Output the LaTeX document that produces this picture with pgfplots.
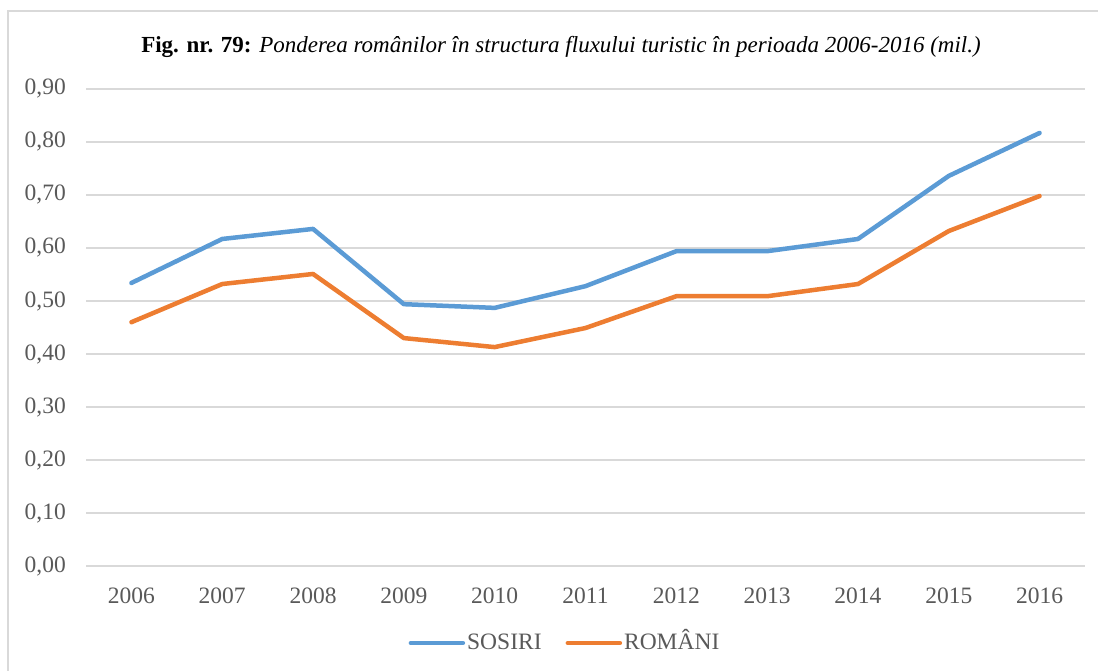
\documentclass[border=0pt]{standalone}
\usepackage{fontspec}
\setmainfont{Liberation Serif}
\usepackage{pgfplots}
\pgfplotsset{compat=1.18}
\definecolor{sosiri}{HTML}{5B9BD5}
\definecolor{romani}{HTML}{ED7D31}
\definecolor{gridc}{HTML}{D9D9D9}
\definecolor{txt}{HTML}{595959}
\begin{document}
\begin{tikzpicture}[x=1pt,y=1pt]
\useasboundingbox (0,0) rectangle (1098,671);
\draw[gridc, line width=2pt] (8,0) -- (8,660) -- (1098,660);
\node[font=\fontsize{23}{26}\selectfont, anchor=center] at (561,624)
  {\textbf{Fig. nr. 79:} \textit{Ponderea românilor în structura fluxului turistic în perioada 2006-2016 (mil.)}};
\begin{axis}[
  at={(86pt,105pt)}, anchor=south west,
  scale only axis, width=999pt, height=477pt,
  xmin=-0.5, xmax=10.5, ymin=0, ymax=0.9,
  axis line style={draw=none},
  major tick length=0pt,
  xtick={0,...,10},
  xticklabels={2006,2007,2008,2009,2010,2011,2012,2013,2014,2015,2016},
  ytick={0,0.1,...,0.9},
  ymajorgrids, grid style={gridc, line width=1.5pt},
  /pgf/number format/assume math mode=true,
  yticklabel={\pgfmathprintnumber[fixed,fixed zerofill,precision=2,use comma]{\tick}},
  tick label style={font=\fontsize{23.5}{26}\selectfont, text=txt, inner sep=0pt},
  yticklabel shift=20pt,
  xticklabel shift=22pt,
  legend style={at={(0.4795,-0.1614)}, anchor=center, draw=none, fill=none,
    font=\fontsize{23.5}{26}\selectfont, text=txt, legend columns=2,
    nodes={text height=17pt, text depth=3pt},
    /tikz/every even column/.append style={column sep=22pt}},
  legend image code/.code={\draw[#1, line cap=round] (0pt,0pt) -- (52pt,0pt);},
]
\addplot[sosiri, line width=4.5pt, line join=round, line cap=round] coordinates {
(0,0.534) (1,0.617) (2,0.636) (3,0.494) (4,0.487) (5,0.528) (6,0.594) (7,0.594) (8,0.617) (9,0.736) (10,0.817)};
\addlegendentry{SOSIRI}
\addplot[romani, line width=4.5pt, line join=round, line cap=round] coordinates {
(0,0.460) (1,0.532) (2,0.551) (3,0.430) (4,0.413) (5,0.449) (6,0.509) (7,0.509) (8,0.532) (9,0.632) (10,0.698)};
\addlegendentry{ROMÂNI}
\end{axis}
\end{tikzpicture}
\end{document}
